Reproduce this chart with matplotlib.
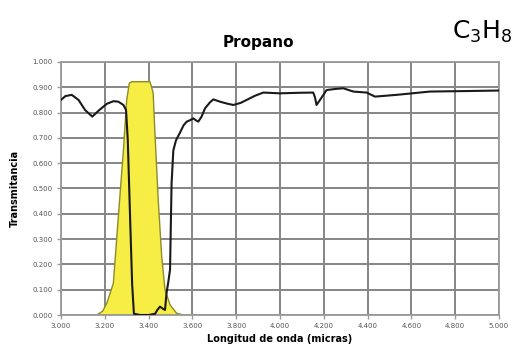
import matplotlib
matplotlib.use("Agg")
import matplotlib.pyplot as plt
import numpy as np

# Black transmittance curve (propane)
curve_x = [3.000, 3.020, 3.049, 3.080, 3.110, 3.143, 3.175, 3.210, 3.240, 3.262, 3.285,
           3.297, 3.305, 3.315, 3.325, 3.333, 3.360, 3.400, 3.430, 3.440, 3.452, 3.465,
           3.475, 3.482, 3.490, 3.498, 3.505, 3.513, 3.525, 3.543, 3.560, 3.574, 3.590,
           3.604, 3.615, 3.627, 3.642, 3.658, 3.680, 3.696, 3.726, 3.760, 3.787, 3.820,
           3.848, 3.885, 3.924, 4.000, 4.080, 4.152, 4.160, 4.167, 4.183, 4.213, 4.250,
           4.289, 4.335, 4.396, 4.434, 4.533, 4.685, 4.850, 5.000]
curve_y = [0.850, 0.865, 0.870, 0.850, 0.810, 0.784, 0.810, 0.835, 0.845, 0.843, 0.830,
           0.810, 0.690, 0.400, 0.120, 0.005, 0.000, 0.000, 0.005, 0.020, 0.033, 0.025,
           0.020, 0.087, 0.130, 0.180, 0.520, 0.650, 0.690, 0.720, 0.750, 0.764, 0.770,
           0.777, 0.770, 0.764, 0.784, 0.817, 0.840, 0.852, 0.843, 0.835, 0.830, 0.838,
           0.850, 0.866, 0.879, 0.876, 0.878, 0.879, 0.860, 0.830, 0.850, 0.889, 0.893,
           0.896, 0.883, 0.879, 0.863, 0.870, 0.883, 0.885, 0.887]

# Yellow filter band
band_x = [3.163, 3.190, 3.209, 3.239, 3.262, 3.285, 3.300, 3.312, 3.323, 3.406, 3.414,
          3.421, 3.429, 3.444, 3.460, 3.475, 3.498, 3.528, 3.558]
band_y = [0.000, 0.015, 0.046, 0.125, 0.390, 0.650, 0.850, 0.916, 0.922, 0.922, 0.900,
          0.876, 0.718, 0.455, 0.230, 0.100, 0.040, 0.007, 0.000]

xticks = [3.0, 3.2, 3.4, 3.6, 3.8, 4.0, 4.2, 4.4, 4.6, 4.8, 5.0]
yticks = [0.0, 0.1, 0.2, 0.3, 0.4, 0.5, 0.6, 0.7, 0.8, 0.9, 1.0]

fig = plt.figure(figsize=(5.17, 3.5), dpi=100)
ax = fig.add_axes([0.118, 0.1, 0.847, 0.723])

ax.fill(band_x, band_y, facecolor="#f6ee45", edgecolor="#8f8a2a", linewidth=1.0, zorder=2)
ax.plot(curve_x, curve_y, color="#1a1a1a", linewidth=1.5, zorder=3)

ax.set_xlim(3.0, 5.0)
ax.set_ylim(0.0, 1.0)
ax.set_xticks(xticks)
ax.set_yticks(yticks)
ax.set_xticklabels([f"{v:.3f}" for v in xticks])
ax.set_yticklabels([f"{v:.3f}" for v in yticks])
ax.grid(True, color="#858585", linewidth=1.4, zorder=1)
ax.set_axisbelow(True)
for s in ax.spines.values():
    s.set_color("#9a9a9a")
    s.set_linewidth(1.3)
ax.tick_params(axis="both", labelsize=5, colors="#9a9a9a", labelcolor="#555555",
               length=3, width=1.0, pad=3)

ax.set_xlabel("Longitud de onda (micras)", fontsize=7, fontweight="bold", labelpad=3)
ax.set_ylabel("Transmitancia", fontsize=7, fontweight="bold", labelpad=9)

fig.text(0.5, 0.88, "Propano", ha="center", va="center", fontsize=11, fontweight="bold")
fig.text(0.933, 0.91, r"C$_3$H$_8$", ha="center", va="center", fontsize=18)

fig.savefig("out.png", dpi=100)
